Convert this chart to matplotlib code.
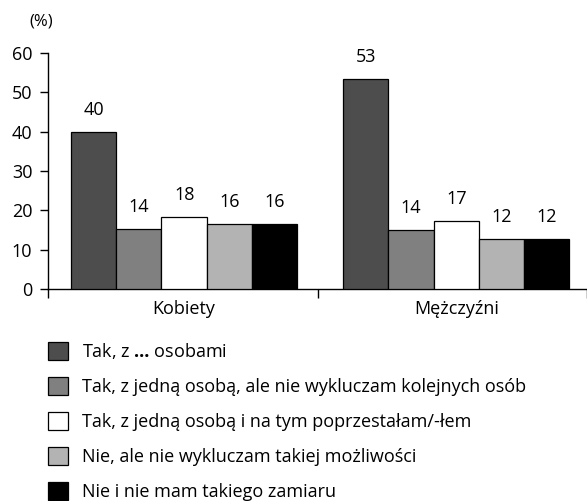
import numpy as np
import matplotlib
matplotlib.use("Agg")
import matplotlib.pyplot as plt

plt.rcParams['font.family'] = ['Open Sans', 'DejaVu Sans']
plt.rcParams['mathtext.fontset'] = 'custom'
plt.rcParams['mathtext.rm'] = 'Open Sans'
plt.rcParams['mathtext.bf'] = 'Open Sans:bold'

# data
groups = ['Kobiety', 'Mężczyźni']
series = [
    'Tak, z $\\mathbf{…}$ osobami',
    'Tak, z jedną osobą, ale nie wykluczam kolejnych osób',
    'Tak, z jedną osobą i na tym poprzestałam/-łem',
    'Nie, ale nie wykluczam takiej możliwości',
    'Nie i nie mam takiego zamiaru',
]
# bar heights as drawn
kobiety = [40, 15.2, 18.4, 16.5, 16.6]
mezczyzni = [53.4, 15.0, 17.3, 12.6, 12.8]
# printed labels
kobiety_lbl = ['40', '14', '18', '16', '16']
mezczyzni_lbl = ['53', '14', '17', '12', '12']
colors = ['#4d4d4d', '#808080', '#ffffff', '#b3b3b3', '#000000']

heights = np.array([kobiety, mezczyzni])
labels = [kobiety_lbl, mezczyzni_lbl]
FS = 13

fig = plt.figure(figsize=(5.87, 5.01), dpi=100)
W, H = 587, 501
ax = fig.add_axes([48 / W, (H - 289) / H, (587 - 48) / W, 236 / H])

centers = np.array([0.505, 1.515])
bw = 0.168
handles = []
for i in range(len(series)):
    xs = centers + (i - 2) * bw
    b = ax.bar(xs, heights[:, i], width=bw, color=colors[i],
               edgecolor='black', linewidth=0.9, label=series[i], zorder=3)
    handles.append(b)
    for j, x in enumerate(xs):
        ax.annotate(labels[j][i], (x, heights[j, i]), xytext=(0, 22),
                    textcoords='offset pixels', ha='center', va='center',
                    fontsize=FS)

ax.set_xlim(0, 2)
ax.set_ylim(0, 60)
ax.set_yticks(range(0, 61, 10))
ax.tick_params(axis='y', length=5.8, width=1, labelsize=FS, pad=5.5)
ax.set_xticks([0, 1, 2])
ax.set_xticklabels(['', '', ''])
ax.tick_params(axis='x', which='major', direction='out', length=6.5, width=1)
ax.set_xticks(centers, minor=True)
ax.set_xticklabels(groups, minor=True)
ax.tick_params(axis='x', which='minor', length=0, labelsize=FS, pad=8)
for s in ['top', 'right']:
    ax.spines[s].set_visible(False)
ax.spines['left'].set_linewidth(1)
ax.spines['bottom'].set_linewidth(1)

fig.text(29 / W, 1 - 22 / H, '(%)', fontsize=12, va='center', ha='left')

fig.legend(handles=handles, labels=series, loc='upper left',
           bbox_to_anchor=(48 / W, 1 - 341 / H), frameon=False,
           fontsize=FS, handlelength=1.1, handleheight=1.1,
           handletextpad=0.78, labelspacing=0.9, borderpad=0,
           borderaxespad=0)

fig.savefig('out.png', dpi=100)
